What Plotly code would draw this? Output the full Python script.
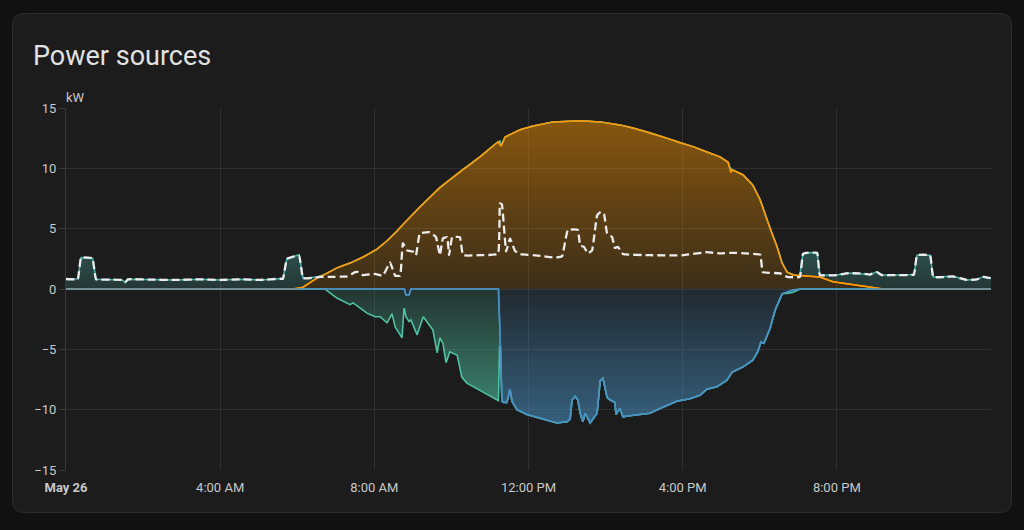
import plotly.graph_objects as go

# ---------------- data (hours since midnight, kW) ----------------
tick_hours = [0, 4, 8, 12, 16, 20]
tick_labels = ["<b>May 26</b>", "4:00 AM", "8:00 AM", "12:00 PM", "4:00 PM", "8:00 PM"]

solar_t = [0, 5.89, 6.15, 6.51, 6.77, 7.03, 7.37, 7.71, 8.07, 8.33, 8.59, 8.67, 9.18, 9.7, 10.22,
           10.74, 11.21, 11.29, 11.39, 11.78, 12.12, 12.64, 13.34, 13.86, 14.37, 14.71, 15.15,
           15.59, 15.93, 16.27, 16.63, 16.97, 17.18, 17.25, 17.31, 17.57, 17.82, 18.01, 18.19,
           18.32, 18.45, 18.58, 18.71, 18.86, 19.23, 19.56, 19.9, 20.42, 20.86, 21.2, 24]
solar_kw = [0, 0, 0.15, 0.9, 1.3, 1.75, 2.15, 2.65, 3.3, 4.0, 4.8, 5.1, 6.8, 8.4, 9.7,
            10.95, 12.2, 11.85, 12.6, 13.2, 13.5, 13.85, 13.95, 13.85, 13.6, 13.35, 12.95,
            12.5, 12.1, 11.8, 11.35, 10.95, 10.5, 9.7, 9.85, 9.45, 8.6, 7.4, 5.7,
            4.6, 3.5, 2.15, 1.4, 1.15, 1.1, 1.0, 0.6, 0.35, 0.15, 0, 0]

battery_out_t = [0, 0.23, 0.31, 0.39, 0.57, 0.69, 0.78, 1.14, 1.45, 1.53, 1.61, 2.18, 2.83, 3.48,
                 4.0, 4.51, 5.03, 5.55, 5.63, 5.73, 5.86, 6.05, 6.15, 6.33, 6.51, 6.7,
                 11.22, 11.26, 11.3, 17.22, 17.26, 17.3, 18.9, 19.04, 19.12, 19.2, 19.49,
                 19.56, 19.9, 20.0, 20.26, 20.6, 20.86, 21.04, 21.17, 21.56, 22.0, 22.08,
                 22.42, 22.5, 22.86, 23.01, 23.38, 23.64, 23.79, 24]
battery_out_kw = [0.83, 0.8, 0.85, 2.6, 2.6, 2.55, 0.8, 0.78, 0.75, 0.55, 0.8, 0.78, 0.75, 0.8,
                  0.75, 0.8, 0.75, 0.85, 0.85, 2.5, 2.65, 2.75, 0.75, 0.4, 0.1, 0,
                  0, 0.3, 0, 0, 0.25, 0, 0, 0, 1.8, 1.9, 2.0,
                  0.15, 0.55, 0.6, 0.9, 1.0, 1.05, 1.35, 1.15, 1.15, 1.2, 2.8,
                  2.8, 1.0, 1.0, 1.05, 0.75, 0.8, 1.0, 0.9]

grid_out_t = [0, 8.78, 8.82, 8.9, 8.95, 11.22, 11.27, 11.31, 11.36, 11.44, 11.52, 11.57, 11.7,
              11.96, 12.38, 12.74, 13.0, 13.08, 13.13, 13.21, 13.28, 13.34, 13.41, 13.47,
              13.52, 13.6, 13.78, 13.86, 13.93, 14.04, 14.12, 14.24, 14.27, 14.37, 14.45,
              14.63, 15.15, 15.41, 15.85, 16.19, 16.45, 16.63, 16.89, 17.15, 17.28, 17.57,
              17.82, 17.95, 18.03, 18.11, 18.27, 18.4, 18.58, 18.71, 18.84, 19.04, 24]
grid_out_kw = [0, 0, -0.5, -0.5, 0, 0, -4.5, -9.3, -9.4, -9.4, -8.3, -9.3, -10.0,
               -10.4, -10.8, -11.1, -11.0, -10.8, -9.2, -8.9, -9.2, -10.3, -11.0, -10.3,
               -10.6, -11.1, -10.3, -7.6, -7.4, -9.0, -9.2, -9.4, -10.4, -9.9, -10.6,
               -10.5, -10.3, -9.9, -9.3, -9.1, -8.8, -8.3, -8.1, -7.55, -6.9, -6.45,
               -5.9, -5.2, -4.4, -4.5, -3.25, -1.75, -0.4, -0.25, -0.1, 0, 0]

battery_in_t = [0, 6.72, 7.03, 7.37, 7.45, 7.63, 7.81, 8.02, 8.15, 8.33, 8.46, 8.54, 8.62, 8.72,
                8.77, 8.88, 9.01, 9.11, 9.27, 9.44, 9.52, 9.63, 9.7, 9.78, 9.86, 9.96, 10.15,
                10.27, 10.4, 10.74, 11.18, 11.22, 11.25, 11.27, 11.31, 18.6, 18.7, 18.85,
                18.95, 19.05, 24]
battery_in_kw = [0, 0, -0.75, -1.3, -1.15, -1.6, -2.0, -2.3, -2.3, -2.8, -2.05, -3.15, -3.55, -4.05,
                 -1.6, -2.05, -3.0, -3.8, -2.3, -3.0, -3.4, -5.3, -4.05, -4.5, -6.1, -5.2, -5.5,
                 -7.3, -7.8, -8.4, -9.2, -9.25, -2.1, -0.3, 0, 0, -0.1, -0.2,
                 -0.1, 0, 0]

usage_t = [0, 0.23, 0.31, 0.39, 0.57, 0.69, 0.78, 1.14, 1.45, 1.53, 1.61, 2.18, 2.83, 3.48, 4.0,
           4.51, 5.03, 5.55, 5.63, 5.73, 5.86, 6.05, 6.15, 6.33, 6.59, 6.85, 7.3, 7.5, 7.58,
           7.7, 8.02, 8.22, 8.41, 8.54, 8.67, 8.74, 8.85, 9.0, 9.08, 9.18, 9.44, 9.6, 9.7,
           9.78, 9.89, 9.94, 10.02, 10.22, 10.3, 10.74, 11.21, 11.26, 11.31, 11.42, 11.52,
           11.65, 11.78, 12.3, 12.69, 12.87, 13.02, 13.28, 13.34, 13.44, 13.54, 13.65, 13.78,
           13.88, 13.96, 14.04, 14.17, 14.24, 14.32, 14.45, 15.15, 16.01, 16.63, 16.97,
           17.31, 17.62, 18.01, 18.08, 18.53, 18.71, 19.04, 19.12, 19.2, 19.49, 19.56, 20.0,
           20.26, 20.6, 20.86, 21.04, 21.17, 21.56, 22.0, 22.08, 22.42, 22.5, 22.86, 23.01,
           23.38, 23.64, 23.79, 24]
usage_kw = [0.83, 0.8, 0.85, 2.6, 2.6, 2.55, 0.8, 0.78, 0.75, 0.55, 0.8, 0.78, 0.75, 0.8, 0.75,
            0.8, 0.75, 0.85, 0.85, 2.5, 2.65, 2.75, 0.9, 0.9, 1.0, 1.0, 1.05, 1.4, 1.4,
            1.15, 1.25, 1.1, 2.2, 1.1, 1.1, 3.8, 3.2, 3.1, 2.8, 4.6, 4.7, 4.3, 2.8,
            4.2, 4.3, 2.8, 4.3, 4.3, 2.8, 2.8, 2.9, 7.1, 7.0, 3.1, 4.2,
            3.15, 2.9, 2.75, 2.6, 2.7, 4.9, 4.9, 3.6, 3.5, 2.95, 3.2, 6.1,
            6.4, 6.2, 4.6, 4.3, 3.4, 3.5, 2.9, 2.8, 2.8, 3.05, 2.95,
            3.0, 2.95, 2.85, 1.4, 1.3, 1.0, 1.0, 2.9, 3.0, 3.0, 1.15, 1.15,
            1.3, 1.3, 1.2, 1.4, 1.15, 1.15, 1.2, 2.8, 2.8, 1.0, 1.0, 1.05,
            0.75, 0.8, 1.0, 0.9]

# ---------------- figure ----------------
ORANGE = "#ff9800"
TEAL = "#4db6ac"
GREEN = "#4fc2a2"
BLUE = "#488fc2"
SPL = dict(shape="spline", smoothing=0.25)
LIN = dict(shape="linear")

fig = go.Figure()

# negative stack: grid export (blue, base) then battery charging (green, below it)
fig.add_trace(go.Scatter(
    x=grid_out_t, y=grid_out_kw, mode="lines", stackgroup="neg", stackgaps="interpolate",
    line=dict(color=BLUE, width=1.6, **LIN),
    fillgradient=dict(type="vertical", start=-11.5, stop=0,
                      colorscale=[[0, "rgba(72,143,194,0.6)"], [1, "rgba(72,143,194,0.12)"]]),
    hoverinfo="skip"))
fig.add_trace(go.Scatter(
    x=battery_in_t, y=battery_in_kw, mode="lines", stackgroup="neg",
    line=dict(color=GREEN, width=1.6, **LIN),
    fillgradient=dict(type="vertical", start=-9.5, stop=0,
                      colorscale=[[0, "rgba(79,194,162,0.6)"], [1, "rgba(79,194,162,0.15)"]]),
    hoverinfo="skip"))

# positive stack: solar (base) then battery discharge on top
fig.add_trace(go.Scatter(
    x=solar_t, y=solar_kw, mode="lines", stackgroup="pos", stackgaps="interpolate",
    line=dict(color=ORANGE, width=1.5, **LIN),
    fillgradient=dict(type="vertical", start=0, stop=14,
                      colorscale=[[0, "rgba(255,152,0,0.14)"], [1, "rgba(255,152,0,0.47)"]]),
    hoverinfo="skip"))
fig.add_trace(go.Scatter(
    x=battery_out_t, y=battery_out_kw, mode="lines", stackgroup="pos",
    line=dict(color=TEAL, width=1.5, **LIN),
    fillgradient=dict(type="vertical", start=0, stop=3,
                      colorscale=[[0, "rgba(77,182,172,0.17)"], [1, "rgba(77,182,172,0.34)"]]),
    hoverinfo="skip"))

# base-series outlines redrawn on top (echarts draws them above stacked neighbours)
fig.add_trace(go.Scatter(x=solar_t, y=solar_kw, mode="lines",
                         line=dict(color=ORANGE, width=1.5, **LIN), hoverinfo="skip"))
fig.add_trace(go.Scatter(x=grid_out_t, y=grid_out_kw, mode="lines",
                         line=dict(color=BLUE, width=1.6, **LIN), hoverinfo="skip"))

# usage dashed line
fig.add_trace(go.Scatter(
    x=usage_t, y=usage_kw, mode="lines",
    line=dict(color="#ececec", width=2.3, dash="8px,4px", **SPL),
    hoverinfo="skip"))

# card geometry (pixels -> paper)
L, R, T, B = 66, 991, 108, 470
W, H = R - L, B - T
def px(x):
    return (x - L) / W
def py(y):
    return (B - y) / H

cx0, cx1, cy0, cy1, rad = 12.5, 1011.5, 13.5, 512.5, 12
path = (f"M {px(cx0+rad)},{py(cy0)} L {px(cx1-rad)},{py(cy0)} "
        f"Q {px(cx1)},{py(cy0)} {px(cx1)},{py(cy0+rad)} "
        f"L {px(cx1)},{py(cy1-rad)} Q {px(cx1)},{py(cy1)} {px(cx1-rad)},{py(cy1)} "
        f"L {px(cx0+rad)},{py(cy1)} Q {px(cx0)},{py(cy1)} {px(cx0)},{py(cy1-rad)} "
        f"L {px(cx0)},{py(cy0+rad)} Q {px(cx0)},{py(cy0)} {px(cx0+rad)},{py(cy0)} Z")

fig.update_layout(
    width=1024, height=530,
    margin=dict(l=L, r=1024 - R, t=T, b=530 - B),
    paper_bgcolor="#111111",
    plot_bgcolor="#1c1c1c",
    showlegend=False,
    font=dict(family="Roboto", color="#c8c8c8", size=13),
    shapes=[dict(type="path", path=path, xref="paper", yref="paper", layer="below",
                 fillcolor="#1c1c1c", line=dict(color="#2c2c2c", width=1))],
    annotations=[
        dict(text="Power sources", x=px(31), y=py(56), xref="paper", yref="paper",
             xanchor="left", yanchor="middle", showarrow=False,
             font=dict(family="Roboto", size=27, color="#e1e1e1")),
        dict(text="kW", x=px(64), y=py(98), xref="paper", yref="paper",
             xanchor="left", yanchor="middle", showarrow=False,
             font=dict(family="Roboto", size=13, color="#c8c8c8")),
    ],
)
fig.update_xaxes(range=[0, 24], tickvals=tick_hours, ticktext=tick_labels,
                 showgrid=True, gridcolor="#2f2f2f", gridwidth=1,
                 zeroline=False, showline=False,
                 ticks="outside", ticklen=5, tickcolor="rgba(0,0,0,0)",
                 tickfont=dict(family="Roboto", size=13, color="#c8c8c8"))
fig.update_yaxes(range=[-15, 15], dtick=5, tick0=0,
                 showgrid=True, gridcolor="#2f2f2f", gridwidth=1,
                 zeroline=False, showline=True, linecolor="#3a3a3a", linewidth=1,
                 ticks="outside", ticklen=6, tickcolor="#3a3a3a",
                 tickfont=dict(family="Roboto", size=13, color="#c8c8c8"))

fig.write_html("out.html")
